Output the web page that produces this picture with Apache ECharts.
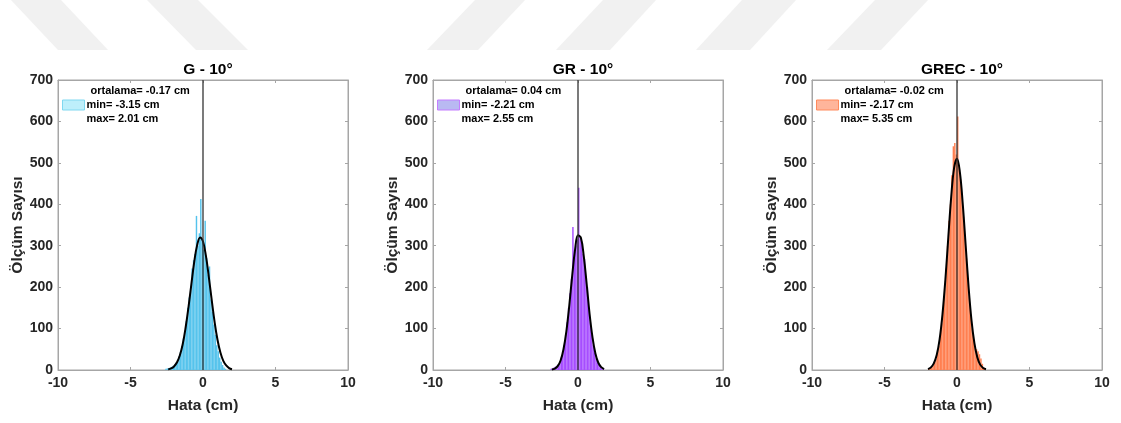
<!DOCTYPE html>
<html>
<head>
<meta charset="utf-8">
<script src="https://cdn.jsdelivr.net/npm/echarts@6/dist/echarts.min.js"></script>
<style>
html,body{margin:0;padding:0;background:#fff;}
#c{width:1121px;height:423px;}
</style>
</head>
<body>
<div id="c"></div>
<script>
// ---------- data ----------
const titles = ['G - 10°', 'GR - 10°', 'GREC - 10°'];
const legendLines = [
  ['ortalama= -0.17 cm', 'min= -3.15 cm', 'max= 2.01 cm'],
  ['ortalama= 0.04 cm', 'min= -2.21 cm', 'max= 2.55 cm'],
  ['ortalama= -0.02 cm', 'min= -2.17 cm', 'max= 5.35 cm']
];
const xTicks = [-10, -5, 0, 5, 10];
const yTicks = [0, 100, 200, 300, 400, 500, 600, 700];
const binWidth = 0.1;
const zeroLineX = 0;

// G histogram (bin centres / counts)
const binsG = [-2.55,-2.45,-2.35,-2.25,-2.15,-2.05,-1.95,-1.85,-1.75,-1.65,-1.55,-1.45,-1.35,-1.25,-1.15,-1.05,-0.95,-0.85,-0.75,-0.65,-0.55,-0.45,-0.35,-0.25,-0.15,-0.05,0.05,0.15,0.25,0.35,0.45,0.55,0.65,0.75,0.85,0.95,1.05,1.15,1.25,1.35,1.45,1.55];
const countsG = [3,4,5,6,8,10,13,18,25,33,44,58,76,95,118,150,175,190,245,265,280,372,300,330,413,310,290,360,270,230,250,170,140,110,85,60,45,30,20,12,6,3];
// GR histogram
const binsGR = [-1.85,-1.75,-1.65,-1.55,-1.45,-1.35,-1.25,-1.15,-1.05,-0.95,-0.85,-0.75,-0.65,-0.55,-0.45,-0.35,-0.25,-0.15,-0.05,0.05,0.15,0.25,0.35,0.45,0.55,0.65,0.75,0.85,0.95,1.05,1.15,1.25,1.35,1.45,1.55,1.65,1.75];
const countsGR = [3,4,6,8,10,14,20,30,42,60,85,115,150,185,220,345,290,300,315,440,320,310,280,268,225,200,150,115,85,60,42,28,18,12,7,4,2];
// GREC histogram
const binsGREC = [-1.95,-1.85,-1.75,-1.65,-1.55,-1.45,-1.35,-1.25,-1.15,-1.05,-0.95,-0.85,-0.75,-0.65,-0.55,-0.45,-0.35,-0.25,-0.15,-0.05,0.05,0.15,0.25,0.35,0.45,0.55,0.65,0.75,0.85,0.95,1.05,1.15,1.25,1.35,1.45,1.55,1.65,1.75,1.85];
const countsGREC = [3,5,7,11,17,26,40,58,82,112,150,195,245,300,360,400,470,540,548,520,612,495,460,420,370,320,270,220,175,135,100,75,58,50,45,38,28,15,6];

// fitted normal curves
const curveXG = [-2.4,-2.2,-2.0,-1.8,-1.6,-1.4,-1.2,-1.0,-0.8,-0.6,-0.4,-0.2,0.0,0.2,0.4,0.6,0.8,1.0,1.2,1.4,1.6,1.8,2.0];
const curveYG = [1.5,3.7,8.6,18,35,62,102,152,208,262,302,320,310,276,225,169,116,73,42,22,11,4.7,2];
const curveXGR = [-1.8,-1.6,-1.4,-1.2,-1.0,-0.8,-0.6,-0.4,-0.2,0.0,0.2,0.4,0.6,0.8,1.0,1.2,1.4,1.6,1.8];
const curveYGR = [1,3.3,9.2,23,50,94,156,228,291,325,319,274,207,135,79,40,17.5,6.9,2.3];
const curveXGREC = [-2.0,-1.8,-1.6,-1.4,-1.2,-1.0,-0.8,-0.6,-0.4,-0.2,0.0,0.2,0.4,0.6,0.8,1.0,1.2,1.4,1.6,1.8,2.0];
const curveYGREC = [2.2,6.3,16,36,74,135,219,320,418,488,510,477,399,300,200,120,65,31,13,5,1.8];

// ---------- styling ----------
const FONT = '"Liberation Sans", Arial, Helvetica, sans-serif';
const TXT = '#262626';
const BOX = '#a6a6a6';
const barColors = ['#55c3ec', '#a64dff', '#ff7f50'];
const legendFill = ['#bdeffb', '#b9b9f2', '#ffb59b'];
const legendBorder = ['#80d8f0', '#c47dff', '#ff8a5c'];
const gridLeft = [58, 433, 812];
const gridTop = 80, gridW = 290, gridH = 290;

const hist = [
  {bins: binsG, counts: countsG, cx: curveXG, cy: curveYG},
  {bins: binsGR, counts: countsGR, cx: curveXGR, cy: curveYGR},
  {bins: binsGREC, counts: countsGREC, cx: curveXGREC, cy: curveYGREC}
];

const grid = [], xAxis = [], yAxis = [], series = [], title = [], legend = [];
for (let i = 0; i < 3; i++) {
  grid.push({left: gridLeft[i], top: gridTop, width: gridW, height: gridH, show: true,
    borderColor: BOX, borderWidth: 1, backgroundColor: 'transparent'});
  const xBase = {type: 'value', gridIndex: i, min: xTicks[0], max: xTicks[xTicks.length-1],
    interval: xTicks[1]-xTicks[0], splitLine: {show: false},
    axisLine: {show: true, onZero: false, lineStyle: {color: BOX, width: 1}},
    axisTick: {show: true, inside: true, length: 3, lineStyle: {color: BOX}}};
  const yBase = {type: 'value', gridIndex: i, min: yTicks[0], max: yTicks[yTicks.length-1],
    interval: yTicks[1]-yTicks[0], splitLine: {show: false},
    axisLine: {show: true, onZero: false, lineStyle: {color: BOX, width: 1}},
    axisTick: {show: true, inside: true, length: 3, lineStyle: {color: BOX}}};
  xAxis.push(Object.assign({}, xBase, {position: 'bottom',
    axisLabel: {show: true, color: TXT, fontFamily: FONT, fontWeight: 'bold', fontSize: 14, margin: 6},
    name: 'Hata (cm)', nameLocation: 'middle', nameGap: 28,
    nameTextStyle: {color: TXT, fontFamily: FONT, fontWeight: 'bold', fontSize: 15.5}}));
  xAxis.push(Object.assign({}, xBase, {position: 'top', axisLabel: {show: false}}));
  yAxis.push(Object.assign({}, yBase, {position: 'left',
    axisLabel: {show: true, color: TXT, fontFamily: FONT, fontWeight: 'bold', fontSize: 14, margin: 5},
    name: 'Ölçüm Sayısı', nameLocation: 'middle', nameGap: 31,
    nameTextStyle: {color: TXT, fontFamily: FONT, fontWeight: 'bold', fontSize: 15.5}}));
  yAxis.push(Object.assign({}, yBase, {position: 'right', axisLabel: {show: false}}));

  const h = hist[i];
  const color = barColors[i];
  series.push({
    name: 's' + i, type: 'custom', xAxisIndex: 2*i, yAxisIndex: 2*i,
    data: h.bins.map((b, k) => [b, h.counts[k]]),
    renderItem: function (params, api) {
      const x = api.value(0), y = api.value(1);
      const p0 = api.coord([x - binWidth/2, y]);
      const p1 = api.coord([x + binWidth/2, 0]);
      return {type: 'rect', shape: {x: p0[0], y: p0[1], width: p1[0]-p0[0], height: p1[1]-p0[1]},
        style: {fill: color, stroke: null}};
    },
    itemStyle: {color: legendFill[i], borderColor: legendBorder[i], borderWidth: 1},
    silent: true, z: 2
  });
  series.push({
    type: 'line', xAxisIndex: 2*i, yAxisIndex: 2*i, smooth: 0.4, symbol: 'none',
    data: h.cx.map((x, k) => [x, h.cy[k]]),
    lineStyle: {color: '#000', width: 2}, z: 4, silent: true
  });
  series.push({
    type: 'line', xAxisIndex: 2*i, yAxisIndex: 2*i, symbol: 'none',
    data: [[zeroLineX, yTicks[0]], [zeroLineX, yTicks[yTicks.length-1]]],
    lineStyle: {color: '#333', width: 1.3}, z: 5, silent: true
  });
  title.push({text: titles[i], left: gridLeft[i] + gridW/2, top: 57, textAlign: 'center',
    textStyle: {color: '#000', fontFamily: FONT, fontWeight: 'bold', fontSize: 15.5}});
  const lines = legendLines[i];
  legend.push({
    show: true, left: gridLeft[i] + 4, top: gridTop + 4, orient: 'vertical',
    data: [{name: 's' + i, icon: 'rect', itemStyle: {color: legendFill[i], borderColor: legendBorder[i], borderWidth: 1}}],
    itemWidth: 22, itemHeight: 10, itemGap: 0, padding: 0, selectedMode: false,
    formatter: function () { return '{a|' + lines[0] + '}\n' + lines[1] + '\n' + lines[2]; },
    textStyle: {color: '#000', fontFamily: FONT, fontWeight: 'bold', fontSize: 11, lineHeight: 14,
      padding: [0, 0, 0, -3],
      rich: {a: {color: '#000', fontFamily: FONT, fontWeight: 'bold', fontSize: 11, lineHeight: 14, padding: [0,0,0,4]}}}
  });
}

// watermark stripes at top (decorative background)
const stripes = [
  [[11,0],[61,0],[108,50],[58,50]],
  [[147,0],[198,0],[248,50],[196,50]],
  [[475,0],[525,0],[478,50],[427,50]],
  [[603,0],[656,0],[610,50],[556,50]],
  [[742,0],[796,0],[750,50],[696,50]],
  [[875,0],[928,0],[881,50],[827,50]]
];
const graphic = stripes.map(p => ({type: 'polygon', shape: {points: p}, style: {fill: '#f1f1f1'}, z: -10, silent: true}));

const chart = echarts.init(document.getElementById('c'), null, {renderer: 'canvas'});
chart.setOption({
  animation: false, backgroundColor: '#fff',
  title, legend, grid, xAxis, yAxis, series, graphic
});
</script>
</body>
</html>
